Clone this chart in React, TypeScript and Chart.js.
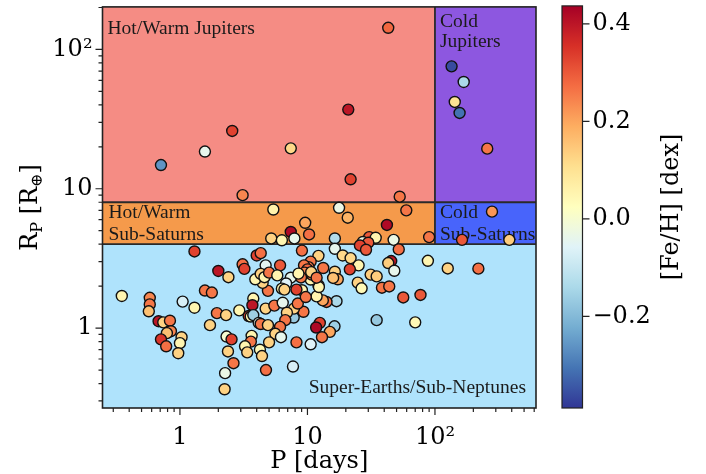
import React, { useEffect, useRef } from 'react';
import { Chart, registerables } from 'chart.js';

Chart.register(...registerables);

// ---------------- data ----------------
const periods: number[] = [
  43, 20.9, 2.57, 1.57, 7.4, 0.71, 21.8, 3.1, 52.9,
  135, 168, 143, 156, 257,
  280, 163, 383,
  90, 17.7, 59.6, 20.7, 9.6, 42, 7.4, 10.3, 7.9, 16.4, 30.5, 34.3, 27.2, 30, 47.4, 5.4, 5.2, 6.3,
  25.8, 28.8, 52, 9.05, 16.4, 12.2, 10.6, 18.9, 21.8, 25.2, 21.5, 45.4, 43, 48, 88, 126, 219,
  13.3, 10.2, 16.4, 17.3, 15.9, 31.3, 34.9, 24.8, 26.6, 38.4, 43.8, 56.4, 77, 34.9, 70,
  16.9, 14.1, 13.2, 11.8, 12.2, 12.3, 10.6, 10.8, 9.4, 10, 9.5, 8.9, 10.7, 11.8,
  12.5, 11.7, 16.3, 15, 13, 8.2, 10.6, 7.7, 7.8, 9.3, 7.84, 8.4, 9.05, 8.2, 9.7, 7.4, 8.5,
  6.8, 6.3, 6.6, 4.9, 4.45, 4.0, 4.3, 2.0, 2.4, 3.1, 3.2, 4.7, 6.1, 3.9, 4.3, 4.6, 5.0, 5.8,
  1.57, 1.78, 3.76, 3.7, 2.92, 4.7, 5.5, 6.4, 6.9, 1.95, 2.3, 1.72, 3.46, 3.59, 3.76, 4.15,
  4.3, 4.9, 6.7, 6.1, 5.6, 6.2, 5.0, 3.65, 3.6, 3.24, 3.37, 4.24, 4.4, 2.32, 2.54, 2.38,
  2.63, 2.26, 2.24, 4.73, 0.35, 0.58, 0.58, 0.57, 0.68, 0.74, 0.835, 0.85, 0.79, 0.71, 0.78,
  1.03, 1.0, 0.97, 1.05, 1.3, 1.3,
];
const radii: number[] = [
  143, 37, 26, 18.5, 19.5, 14.8, 11.7, 9.0, 8.77,
  75.6, 58.4, 42, 35, 19.4,
  6.85, 4.3, 4.3,
  4.5, 7.3, 7.0, 6.2, 5.7, 5.5, 4.9, 4.7, 4.4, 4.4, 4.5, 4.45, 4.15, 4.1, 4.3, 7.1, 4.4, 4.27,
  3.92, 3.65, 3.67, 3.6, 3.71, 3.3, 3.0, 3.32, 3.18, 2.82, 2.64, 3.03, 2.93, 2.58, 3.04, 2.68, 2.67,
  2.7, 2.74, 2.54, 2.24, 2.29, 2.42, 2.35, 2.12, 1.93, 1.95, 1.99, 1.66, 1.73, 1.14, 1.1,
  1.56, 1.54, 1.58, 1.69, 2.03, 1.97, 2.23, 2.42, 2.82, 2.64, 2.5, 2.31, 2.52, 2.3,
  1.09, 1.01, 1.03, 0.94, 0.86, 0.79, 0.765, 0.53, 1.19, 1.31, 1.38, 1.5, 1.87, 1.89, 1.67, 2.3, 2.46,
  2.09, 1.92, 1.89, 1.85, 2.11, 3.32, 3.45, 2.57, 2.32, 2.87, 2.66, 2.82, 2.82, 2.24, 2.45, 2.32, 2.5, 2.39,
  1.86, 1.8, 1.63, 1.46, 1.34, 1.38, 1.45, 1.52, 1.29, 1.28, 1.24, 1.05, 1.22, 1.21, 1.24, 1.09,
  1.07, 1.05, 1.14, 1.02, 0.91, 0.86, 0.79, 0.88, 0.8, 0.74, 0.67, 0.7, 0.63, 0.87, 0.83, 0.68,
  0.56, 0.475, 0.364, 0.5, 1.7, 1.65, 1.48, 1.32, 1.12, 1.1, 1.13, 0.95, 0.92, 0.83, 0.74,
  0.86, 0.78, 0.66, 1.55, 1.4, 3.55,
];
const metallicity: number[] = [
  0.28, 0.4, 0.33, -0.04, 0.12, -0.26, 0.33, 0.24, 0.26,
  -0.36, -0.14, 0.1, -0.31, 0.26,
  0.22, 0.3, 0.14,
  0.26, -0.03, 0.26, 0.18, 0.2, 0.42, 0.42, 0.27, -0.04, -0.13, 0.3, 0.05, -0.03, 0.3, -0.03, 0.06, 0.13, 0.05,
  0.33, 0.3, 0.27, 0.27, -0.04, 0.13, 0.26, 0.12, 0.12, 0.05, 0.33, 0.4, 0.14, -0.04, 0.05, 0.13, 0.27,
  0.26, 0.26, 0.13, 0.2, 0.16, 0.14, 0.14, 0.13, 0.04, 0.26, 0.26, 0.3, 0.3, -0.17, 0.04,
  -0.14, 0.27, 0.2, 0.05, 0.26, 0.05, 0.05, 0.27, 0.26, 0.28, 0.24, 0.26, 0.13, 0.26,
  0.33, 0.42, -0.16, 0.2, 0.26, 0.27, -0.06, -0.07, -0.17, 0.26, 0.13, 0.26, 0.05, 0.33, 0.26, -0.04, 0.05,
  -0.06, 0.05, 0.13, 0.26, 0.13, 0.33, 0.27, 0.4, 0.13, 0.27, 0.33, -0.05, 0.3, 0.05, 0.13, 0.05, 0.26, 0.05,
  0.26, 0.26, 0.05, 0.4, 0.05, 0.13, 0.26, -0.04, 0.13, 0.26, 0.13, 0.13, 0.33, 0.05, -0.16, -0.04,
  0.26, 0.13, 0.26, 0.26, 0.13, -0.04, 0.13, 0.05, 0.26, 0.05, 0.13, 0.04, 0.13, 0.0, 0.33, 0.13,
  0.26, -0.03, 0.13, 0.27, 0.05, 0.24, 0.26, 0.16, 0.4, 0.13, 0.26, 0.24, 0.16, 0.35, 0.27,
  0.13, 0.05, 0.13, -0.07, 0.05, 0.33,
];

const xRange = [0.247, 620];
const yRange = [0.267, 202];
const xMinorTicks = [0.3, 0.4, 0.5, 0.6, 0.7, 0.8, 0.9, 2, 3, 4, 5, 6, 7, 8, 9, 20, 30, 40, 50, 60, 70, 80, 90, 200, 300, 400, 500, 600];
const yMinorTicks = [0.3, 0.4, 0.5, 0.6, 0.7, 0.8, 0.9, 2, 3, 4, 5, 6, 7, 8, 9, 20, 30, 40, 50, 60, 70, 80, 90, 200];
const majorTicks = [1, 10, 100];
const majorTickLabels = ['1', '10', '10²'];

const cbarMin = -0.388;
const cbarMax = 0.437;
const cbarTicks = [0.4, 0.2, 0.0, -0.2];
const cbarTickLabels = ['0.4', '0.2', '0.0', '\u22120.2'];

const periodSplit = 100;
const jupiterMinRadius = 8;
const subSaturnMinRadius = 4;

// RdYlBu (reversed when used)
const RDYLBU = ['#a50026', '#d73027', '#f46d43', '#fdae61', '#fee090', '#ffffbf', '#e0f3f8', '#abd9e9', '#74add1', '#4575b4', '#313695'];

function hexToRgb(h: string) {
  return [parseInt(h.slice(1, 3), 16), parseInt(h.slice(3, 5), 16), parseInt(h.slice(5, 7), 16)];
}
function cmap(v: number) {
  let t = (v - cbarMin) / (cbarMax - cbarMin);
  t = Math.max(0, Math.min(1, t));
  const u = (1 - t) * 10;
  const i = Math.min(9, Math.floor(u));
  const f = u - i;
  const a = hexToRgb(RDYLBU[i]);
  const b = hexToRgb(RDYLBU[i + 1]);
  const c = a.map((av, k) => Math.round(av + (b[k] - av) * f));
  return `rgb(${c[0]},${c[1]},${c[2]})`;
}

const SERIF = '"DejaVu Serif", serif';
const LABEL_FONT = '19.5px "Liberation Serif", serif';

const decorPlugin = {
  id: 'decor',
  beforeDatasetsDraw(chart: any) {
    const { ctx, chartArea, scales } = chart;
    const { left, right, top, bottom } = chartArea;
    const px = scales.x.getPixelForValue(periodSplit);
    const y8 = scales.y.getPixelForValue(jupiterMinRadius);
    const y4 = scales.y.getPixelForValue(subSaturnMinRadius);
    ctx.save();
    ctx.fillStyle = '#f58c84';
    ctx.fillRect(left, top, px - left, y8 - top);
    ctx.fillStyle = '#8d57e0';
    ctx.fillRect(px, top, right - px, y8 - top);
    ctx.fillStyle = '#f59a4b';
    ctx.fillRect(left, y8, px - left, y4 - y8);
    ctx.fillStyle = '#4864fb';
    ctx.fillRect(px, y8, right - px, y4 - y8);
    ctx.fillStyle = '#afe3fc';
    ctx.fillRect(left, y4, right - left, bottom - y4);

    ctx.strokeStyle = '#2a2a2a';
    ctx.lineWidth = 1.8;
    ctx.beginPath();
    ctx.moveTo(left, y8); ctx.lineTo(right, y8);
    ctx.moveTo(left, y4); ctx.lineTo(right, y4);
    ctx.moveTo(px, top); ctx.lineTo(px, y4);
    ctx.stroke();

    ctx.fillStyle = '#1a1a1a';
    ctx.font = LABEL_FONT;
    ctx.textBaseline = 'alphabetic';
    ctx.textAlign = 'left';
    ctx.fillText('Hot/Warm Jupiters', left + 5, top + 27);
    ctx.fillText('Cold', px + 5, top + 20);
    ctx.fillText('Jupiters', px + 5, top + 40);
    ctx.fillText('Hot/Warm', left + 6, y8 + 15.5);
    ctx.fillText('Sub-Saturns', left + 6, y8 + 37.5);
    ctx.fillText('Cold', px + 5, y8 + 15.5);
    ctx.fillText('Sub-Saturns', px + 5, y8 + 37.5);
    ctx.textAlign = 'right';
    ctx.fillText('Super-Earths/Sub-Neptunes', right - 10, bottom - 15);
    ctx.restore();
  },
  afterDatasetsDraw(chart: any) {
    const { ctx, chartArea, scales } = chart;
    const { left, right, top, bottom } = chartArea;
    ctx.save();
    // frame
    ctx.strokeStyle = '#222';
    ctx.lineWidth = 1.6;
    ctx.strokeRect(left, top, right - left, bottom - top);
    // ticks
    ctx.lineWidth = 1.2;
    ctx.beginPath();
    const drawX = (v: number, len: number) => {
      const p = scales.x.getPixelForValue(v);
      ctx.moveTo(p, bottom); ctx.lineTo(p, bottom + len);
    };
    const drawY = (v: number, len: number) => {
      const p = scales.y.getPixelForValue(v);
      ctx.moveTo(left, p); ctx.lineTo(left - len, p);
    };
    xMinorTicks.forEach((v) => drawX(v, 4));
    majorTicks.forEach((v) => drawX(v, 7));
    yMinorTicks.forEach((v) => drawY(v, 4));
    majorTicks.forEach((v) => drawY(v, 7));
    ctx.stroke();

    // axis titles
    ctx.fillStyle = '#000';
    ctx.font = `24px ${SERIF}`;
    ctx.textAlign = 'center';
    ctx.textBaseline = 'alphabetic';
    ctx.fillText('P [days]', (left + right) / 2, 468);

    // y title with subscripts
    const parts: [string, number, number][] = [
      ['R', 24, 0], ['P', 16, 5], [' [R', 24, 0], ['\u2295', 16, 5], [']', 24, 0],
    ];
    let total = 0;
    parts.forEach(([s, sz]) => { ctx.font = `${sz}px ${SERIF}`; total += ctx.measureText(s).width; });
    ctx.translate(37, (top + bottom) / 2);
    ctx.rotate(-Math.PI / 2);
    ctx.textAlign = 'left';
    let xx = -total / 2;
    parts.forEach(([s, sz, dy]) => {
      ctx.font = `${sz}px ${SERIF}`;
      ctx.fillText(s, xx, dy);
      xx += ctx.measureText(s).width;
    });
    ctx.setTransform(1, 0, 0, 1, 0, 0);

    // colorbar
    const cbL = right + 26;
    const cbW = 20.5;
    const cbT = top - 1;
    const cbB = bottom;
    const grad = ctx.createLinearGradient(0, cbB, 0, cbT);
    for (let i = 0; i <= 40; i++) {
      const v = cbarMin + (cbarMax - cbarMin) * (i / 40);
      grad.addColorStop(i / 40, cmap(v));
    }
    ctx.fillStyle = grad;
    ctx.fillRect(cbL, cbT, cbW, cbB - cbT);
    ctx.strokeStyle = '#222';
    ctx.lineWidth = 1.2;
    ctx.strokeRect(cbL, cbT, cbW, cbB - cbT);
    ctx.fillStyle = '#000';
    ctx.font = `24px ${SERIF}`;
    ctx.textAlign = 'left';
    ctx.textBaseline = 'middle';
    ctx.beginPath();
    cbarTicks.forEach((v, i) => {
      const yy = cbB - ((v - cbarMin) / (cbarMax - cbarMin)) * (cbB - cbT);
      ctx.moveTo(cbL + cbW, yy); ctx.lineTo(cbL + cbW + 7, yy);
      ctx.fillText(cbarTickLabels[i], cbL + cbW + 10, yy);
    });
    ctx.stroke();

    ctx.translate(678, (cbT + cbB) / 2);
    ctx.rotate(-Math.PI / 2);
    ctx.textAlign = 'center';
    ctx.textBaseline = 'alphabetic';
    ctx.fillText('[Fe/H] [dex]', 0, 0);
    ctx.restore();
  },
};

export default function App() {
  const ref = useRef<HTMLCanvasElement | null>(null);
  useEffect(() => {
    document.body.style.margin = '0';
    const canvas = ref.current!;
    const points = periods.map((p, i) => ({ x: p, y: radii[i] }));
    const chart = new Chart(canvas, {
      type: 'scatter',
      data: {
        datasets: [
          {
            data: points,
            pointRadius: 5.5,
            pointHoverRadius: 5.5,
            pointBackgroundColor: metallicity.map(cmap),
            pointBorderColor: '#111',
            pointBorderWidth: 1.4,
          },
        ],
      },
      options: {
        responsive: false,
        animation: false,
        devicePixelRatio: 1,
        layout: { padding: { top: 5, right: 170, left: 0, bottom: 0 } },
        plugins: { legend: { display: false }, tooltip: { enabled: false } },
        scales: {
          x: {
            type: 'logarithmic',
            position: 'bottom',
            min: xRange[0],
            max: xRange[1],
            afterBuildTicks: (s: any) => {
              s.ticks = [...xMinorTicks, ...majorTicks].sort((a, b) => a - b).map((v) => ({ value: v }));
            },
            afterFit: (s: any) => {
              s.height = 66;
              s.paddingLeft = 0; s.paddingRight = 0; s.paddingTop = 0; s.paddingBottom = 0;
            },
            grid: { display: false, drawTicks: false },
            border: { display: false },
            ticks: {
              autoSkip: false,
              maxRotation: 0,
              minRotation: 0,
              padding: 15,
              color: '#000',
              font: { family: 'DejaVu Serif', size: 24 },
              callback: (v: any) => {
                const k = majorTicks.indexOf(Number(v));
                return k >= 0 ? majorTickLabels[k] : '';
              },
            },
          },
          y: {
            type: 'logarithmic',
            position: 'left',
            min: yRange[0],
            max: yRange[1],
            afterBuildTicks: (s: any) => {
              s.ticks = [...yMinorTicks, ...majorTicks].sort((a, b) => a - b).map((v) => ({ value: v }));
            },
            afterFit: (s: any) => {
              s.width = 102.5;
              s.paddingLeft = 0; s.paddingRight = 0; s.paddingTop = 0; s.paddingBottom = 0;
            },
            grid: { display: false, drawTicks: false },
            border: { display: false },
            ticks: {
              autoSkip: false,
              padding: 10,
              color: '#000',
              font: { family: 'DejaVu Serif', size: 24 },
              callback: (v: any) => {
                const k = majorTicks.indexOf(Number(v));
                return k >= 0 ? majorTickLabels[k] : '';
              },
            },
          },
        },
      },
      plugins: [decorPlugin],
    });
    return () => chart.destroy();
  }, []);
  return <canvas ref={ref} width={706} height={474} style={{ display: 'block' }} />;
}
